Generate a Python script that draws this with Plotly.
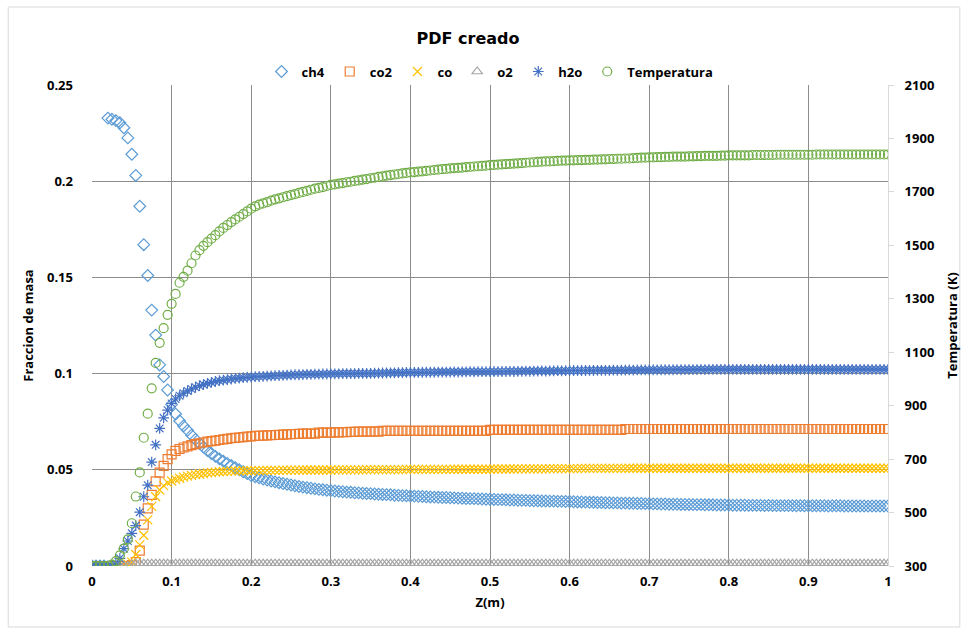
import plotly.graph_objects as go

# ---------------- data ----------------
Z = [0, .005, .01, .015, .02, .025, .03, .035, .04, .045,
     .05, .055, .06, .065, .07, .075, .08, .085, .09, .095,
     .1, .105, .11, .115, .12, .125, .13, .135, .14, .145,
     .15, .155, .16, .165, .17, .175, .18, .185, .19, .195,
     .2, .205, .21, .215, .22, .225, .23, .235, .24, .245,
     .25, .255, .26, .265, .27, .275, .28, .285, .29, .295,
     .3,
     .31, .32, .33, .34, .35, .36, .37, .38, .39, .40,
     .41, .42, .43, .44, .45, .46, .47, .48, .49, .50,
     .51, .52, .53, .54, .55, .56, .57, .58, .59, .60,
     .61, .62, .63, .64, .65, .66, .67, .68, .69, .70,
     .71, .72, .73, .74, .75, .76, .77, .78, .79, .80,
     .81, .82, .83, .84, .85, .86, .87, .88, .89, .90,
     .91, .92, .93, .94, .95, .96, .97, .98, .99, 1.0]

# extra sample positions between 0.3 and 1 (the reference is densely sampled)
Z_mid = [.305, .315, .325, .335, .345, .355, .365, .375, .385, .395,
         .405, .415, .425, .435, .445, .455, .465, .475, .485, .495,
         .505, .515, .525, .535, .545, .555, .565, .575, .585, .595,
         .605, .615, .625, .635, .645, .655, .665, .675, .685, .695,
         .705, .715, .725, .735, .745, .755, .765, .775, .785, .795,
         .805, .815, .825, .835, .845, .855, .865, .875, .885, .895,
         .905, .915, .925, .935, .945, .955, .965, .975, .985, .995]

ch4 = [0, 0, 0, 0, .2328, .2322, .2315, .2304, .2278, .2225,
       .2140, .2030, .1870, .1670, .1510, .1330, .1200, .1045, .0985, .0915,
       .0840, .0790, .0755, .0728, .0705, .0680, .0658, .0637, .0618, .0600,
       .0585, .0570, .0557, .0545, .0533, .0522, .0511, .0500, .0490, .0480,
       .0470, .0464, .0458, .0452, .0447, .0442, .0437, .0433, .0429, .0425,
       .0421, .0417, .0413, .0410, .0407, .0404, .0401, .0398, .0396, .0394,
       .0392,
       .0388, .0384, .0381, .0378, .0376, .0373, .0371, .0368, .0366, .0364,
       .0362, .0360, .0358, .0356, .0355, .0353, .0351, .0350, .0348, .0347,
       .0345, .0344, .0343, .0341, .0340, .0339, .0338, .0337, .0336, .0335,
       .0333, .0332, .0331, .0330, .0329, .0328, .0327, .0326, .0325, .0324,
       .0323, .0322, .0321, .0320, .0320, .0319, .0318, .0318, .0317, .0317,
       .0316, .0316, .0315, .0315, .0315, .0314, .0314, .0314, .0314, .0313,
       .0313, .0313, .0313, .0313, .0312, .0312, .0312, .0312, .0312, .0312]
ch4_mid = [.0390, .0386, .0383, .0380, .0377, .0374, .0372, .0370, .0367, .0365,
           .0363, .0361, .0359, .0357, .0356, .0354, .0352, .0350, .0349, .0347,
           .0346, .0345, .0343, .0342, .0341, .0339, .0338, .0337, .0336, .0335,
           .0334, .0333, .0331, .0330, .0329, .0328, .0327, .0326, .0325, .0324,
           .0323, .0322, .0321, .0321, .0320, .0319, .0319, .0318, .0317, .0317,
           .0316, .0316, .0315, .0315, .0314, .0314, .0314, .0314, .0313, .0313,
           .0313, .0313, .0312, .0313, .0312, .0312, .0312, .0311, .0312, .0312]

co2 = [0, 0, 0, 0, 0, 0, 0, 0, 0, 0,
       .0005, .002, .008, .0215, .030, .037, .044, .0485, .052, .0555,
       .0580, .0598, .0608, .0616, .0622, .0628, .0633, .0638, .0642, .0646,
       .0649, .0652, .0655, .0658, .0661, .0664, .0666, .0668, .0670, .0672,
       .0674, .0676, .0677, .0678, .0679, .0680, .0681, .0682, .0683, .0684,
       .0685, .0686, .0687, .0688, .0688, .0688, .0688, .0693, .0693, .0693,
       .0693,
       .0695, .0696, .0697, .0698, .0698, .0698, .0702, .0702, .0702, .0702,
       .0702, .0702, .0702, .0702, .0702, .0702, .0702, .0702, .0702, .0707,
       .0707, .0707, .0707, .0707, .0707, .0707, .0707, .0707, .0707, .0707,
       .0707, .0707, .0707, .0707, .0707, .0707, .0712, .0712, .0712, .0712,
       .0712, .0712, .0712, .0712, .0712, .0712, .0712, .0712, .0712, .0712,
       .0712, .0712, .0712, .0712, .0712, .0712, .0712, .0712, .0712, .0712,
       .0712, .0712, .0712, .0712, .0712, .0712, .0712, .0712, .0712, .0712]
co2_mid = [.0695, .0696, .0697, .0698, .0698, .0700, .0702, .0702, .0702, .0702,
           .0702, .0702, .0702, .0702, .0702, .0702, .0702, .0702, .0702, .0702,
           .0707, .0707, .0707, .0707, .0707, .0707, .0707, .0707, .0707, .0707,
           .0707, .0707, .0707, .0707, .0707, .0707, .0707, .0712, .0712, .0712,
           .0712, .0712, .0712, .0712, .0712, .0712, .0712, .0712, .0712, .0712,
           .0712, .0712, .0712, .0712, .0712, .0712, .0712, .0712, .0712, .0712,
           .0712, .0712, .0712, .0712, .0712, .0712, .0712, .0712, .0712, .0712]

co = [0, 0, 0, 0, 0, 0, 0, 0, 0, .001,
      .002, .006, .011, .016, .024, .031, .036, .0395, .0418, .0433,
      .0442, .0450, .0456, .0462, .0467, .0471, .0475, .0478, .0481, .0484,
      .0486, .0488, .0490, .0491, .0492, .0493, .0494, .0494, .0495, .0495,
      .0495, .0496, .0496, .0496, .0497, .0497, .0497, .0497, .0498, .0498,
      .0498, .0498, .0498, .0499, .0499, .0499, .0499, .0499, .0499, .0499,
      .0499,
      .0500, .0500, .0500, .0500, .0501, .0501, .0501, .0501, .0501, .0502,
      .0502, .0502, .0502, .0502, .0502, .0503, .0503, .0503, .0503, .0503,
      .0504, .0504, .0504, .0505, .0505, .0505, .0505, .0506, .0506, .0506,
      .0506, .0507, .0507, .0507, .0507, .0507, .0507, .0508, .0508, .0508,
      .0508, .0508, .0508, .0508, .0508, .0508, .0508, .0508, .0508, .0508,
      .0508, .0508, .0508, .0508, .0508, .0508, .0508, .0508, .0508, .0508,
      .0508, .0508, .0508, .0508, .0508, .0508, .0508, .0508, .0508, .0508]
co_mid = [.0500, .0500, .0500, .0500, .0501, .0501, .0501, .0501, .0501, .0502,
          .0502, .0502, .0502, .0502, .0502, .0503, .0503, .0503, .0503, .0503,
          .0504, .0504, .0504, .0505, .0505, .0505, .0505, .0506, .0506, .0506,
          .0506, .0507, .0507, .0507, .0507, .0507, .0507, .0508, .0508, .0508,
          .0508, .0508, .0508, .0508, .0508, .0508, .0508, .0508, .0508, .0508,
          .0508, .0508, .0508, .0508, .0508, .0508, .0508, .0508, .0508, .0508,
          .0508, .0508, .0508, .0508, .0508, .0508, .0508, .0508, .0508, .0508]

o2 = [0, 0, 0, 0, 0, 0, 0, 0, 0, 0,
      .0008, .0012, .0012, .0012, .0012, .0012, .0012, .0012, .0012, .0012,
      .0012, .0012, .0012, .0012, .0012, .0012, .0012, .0012, .0012, .0012,
      .0012, .0012, .0012, .0012, .0012, .0012, .0012, .0012, .0012, .0012,
      .0012, .0012, .0012, .0012, .0012, .0012, .0012, .0012, .0012, .0012,
      .0012, .0012, .0012, .0012, .0012, .0012, .0012, .0012, .0012, .0012,
      .0012,
      .0012, .0012, .0012, .0012, .0012, .0012, .0012, .0012, .0012, .0012,
      .0012, .0012, .0012, .0012, .0012, .0012, .0012, .0012, .0012, .0012,
      .0012, .0012, .0012, .0012, .0012, .0012, .0012, .0012, .0012, .0012,
      .0012, .0012, .0012, .0012, .0012, .0012, .0012, .0012, .0012, .0012,
      .0012, .0012, .0012, .0012, .0012, .0012, .0012, .0012, .0012, .0012,
      .0012, .0012, .0012, .0012, .0012, .0012, .0012, .0012, .0012, .0012,
      .0012, .0012, .0012, .0012, .0012, .0012, .0012, .0012, .0012, .0012]
o2_mid = [.0012, .0012, .0012, .0012, .0012, .0012, .0012, .0012, .0012, .0012,
          .0012, .0012, .0012, .0012, .0012, .0012, .0012, .0012, .0012, .0012,
          .0012, .0012, .0012, .0012, .0012, .0012, .0012, .0012, .0012, .0012,
          .0012, .0012, .0012, .0012, .0012, .0012, .0012, .0012, .0012, .0012,
          .0012, .0012, .0012, .0012, .0012, .0012, .0012, .0012, .0012, .0012,
          .0012, .0012, .0012, .0012, .0012, .0012, .0012, .0012, .0012, .0012,
          .0012, .0012, .0012, .0012, .0012, .0012, .0012, .0012, .0012, .0012]

h2o = [0, 0, 0, 0, 0, 0, .001, .004, .009, .013,
       .017, .021, .028, .036, .042, .054, .063, .0715, .0770, .0810,
       .0845, .0868, .0885, .0898, .0910, .0920, .0929, .0937, .0943, .0949,
       .0954, .0959, .0963, .0966, .0969, .0972, .0975, .0977, .0979, .0981,
       .0982, .0984, .0985, .0986, .0987, .0988, .0989, .0990, .0991, .0992,
       .0993, .0994, .0994, .0995, .0996, .0996, .0997, .0997, .0998, .0998,
       .0999,
       .0999, .1000, .1000, .1001, .1001, .1002, .1003, .1004, .1005, .1006,
       .1006, .1007, .1007, .1008, .1008, .1008, .1009, .1009, .1010, .1010,
       .1010, .1011, .1011, .1012, .1012, .1013, .1013, .1014, .1014, .1015,
       .1015, .1016, .1016, .1017, .1017, .1017, .1018, .1018, .1019, .1019,
       .1019, .1020, .1020, .1020, .1021, .1021, .1021, .1022, .1022, .1022,
       .1022, .1022, .1022, .1022, .1022, .1022, .1022, .1022, .1022, .1022,
       .1022, .1022, .1022, .1022, .1022, .1022, .1022, .1022, .1022, .1022]
h2o_mid = [.0999, .1000, .1000, .1001, .1001, .1002, .1003, .1004, .1005, .1006,
           .1006, .1007, .1007, .1008, .1008, .1009, .1009, .1010, .1010, .1010,
           .1011, .1011, .1012, .1012, .1013, .1013, .1014, .1014, .1015, .1015,
           .1016, .1016, .1017, .1017, .1017, .1018, .1018, .1019, .1019, .1019,
           .1020, .1020, .1020, .1021, .1021, .1021, .1022, .1022, .1022, .1022,
           .1022, .1022, .1022, .1022, .1022, .1022, .1022, .1022, .1022, .1022,
           .1022, .1022, .1022, .1022, .1022, .1022, .1022, .1022, .1022, .1022]

temperatura = [300, 300, 300, 300, 300, 305, 318, 340, 365, 400,
               460, 560, 650, 780, 870, 965, 1060, 1135, 1190, 1240,
               1281, 1318, 1360, 1382, 1405, 1433, 1462, 1482, 1498, 1512,
               1525, 1538, 1552, 1565, 1576, 1587, 1597, 1607, 1617, 1627,
               1637, 1646, 1652, 1657, 1662, 1667, 1672, 1676, 1680, 1684,
               1688, 1692, 1696, 1700, 1704, 1708, 1712, 1715, 1718, 1722,
               1726,
               1731, 1736, 1741, 1746, 1751, 1756, 1761, 1765, 1769, 1773,
               1776, 1779, 1782, 1785, 1788, 1790, 1793, 1795, 1797, 1800,
               1802, 1804, 1806, 1808, 1810, 1812, 1814, 1815, 1817, 1818,
               1819, 1820, 1821, 1822, 1823, 1824, 1825, 1826, 1828, 1829,
               1830, 1831, 1832, 1832, 1833, 1834, 1835, 1835, 1836, 1837,
               1837, 1837, 1838, 1838, 1838, 1839, 1839, 1839, 1839, 1839,
               1840, 1840, 1840, 1840, 1840, 1840, 1840, 1840, 1840, 1840]
temperatura_mid = [1728, 1733, 1738, 1743, 1748, 1753, 1758, 1763, 1767, 1771,
                   1774, 1777, 1780, 1783, 1786, 1789, 1791, 1794, 1796, 1798,
                   1801, 1803, 1805, 1807, 1809, 1811, 1813, 1814, 1816, 1817,
                   1818, 1819, 1820, 1821, 1822, 1823, 1824, 1825, 1827, 1828,
                   1829, 1830, 1831, 1832, 1832, 1833, 1834, 1835, 1835, 1836,
                   1837, 1837, 1837, 1838, 1838, 1838, 1839, 1839, 1839, 1839,
                   1839, 1840, 1840, 1840, 1840, 1840, 1840, 1840, 1840, 1840]

x_ticks = [0, 0.1, 0.2, 0.3, 0.4, 0.5, 0.6, 0.7, 0.8, 0.9, 1]
y_ticks = [0, 0.05, 0.1, 0.15, 0.2, 0.25]
t_ticks = [300, 500, 700, 900, 1100, 1300, 1500, 1700, 1900, 2100]

# ---------------- figure ----------------
FONT = "Open Sans"
series = [
    ("ch4", ch4 + ch4_mid, "diamond-open", "#5B9BD5", "y"),
    ("co2", co2 + co2_mid, "square-open", "#ED7D31", "y"),
    ("co", co + co_mid, "x-thin-open", "#FFC000", "y"),
    ("o2", o2 + o2_mid, "triangle-up-open", "#A5A5A5", "y"),
    ("h2o", h2o + h2o_mid, "asterisk-open", "#4472C4", "y"),
    ("Temperatura", temperatura + temperatura_mid, "circle-open", "#70AD47", "y2"),
]
xs = Z + Z_mid

fig = go.Figure()
for name, vals, sym, col, ax in series:
    fig.add_trace(go.Scatter(
        x=xs, y=vals, name=name, mode="markers", yaxis=ax,
        marker=dict(symbol=sym, size=9, color=col, line=dict(width=1.2, color=col)),
    ))

bold = dict(family=FONT, size=13, color="#000000", weight=700)

fig.update_layout(
    width=969, height=630,
    margin=dict(l=92, r=79, t=85, b=64),
    paper_bgcolor="white", plot_bgcolor="white",
    title=dict(text="PDF creado", x=468 / 969, xref="container", xanchor="center",
               y=1 - 38 / 630, yref="container", yanchor="middle",
               font=dict(family="DejaVu Sans", size=16, color="#000000", weight=700)),
    legend=dict(orientation="h", x=0.5, xanchor="center", y=1.028, yanchor="middle",
                font=bold, itemwidth=30, tracegroupgap=0, bgcolor="rgba(0,0,0,0)"),
    xaxis=dict(range=[0, 1], tickvals=x_ticks, ticktext=[str(v) for v in x_ticks],
               showgrid=True, gridcolor="#8c8c8c", gridwidth=1, zeroline=False,
               showline=False, ticks="", tickfont=bold, ticklabelstandoff=6,
               title=dict(text="Z(m)", font=bold, standoff=8)),
    yaxis=dict(range=[0, 0.25], tickvals=y_ticks, ticktext=[str(v) for v in y_ticks],
               showgrid=True, gridcolor="#8c8c8c", gridwidth=1, zeroline=False,
               showline=False, ticks="", tickfont=bold, ticklabelstandoff=18,
               title=dict(text="Fraccion de masa", font=bold, standoff=10)),
    yaxis2=dict(range=[300, 2100], tickvals=t_ticks, overlaying="y", side="right",
                showgrid=False, zeroline=False, showline=True, linecolor="#d9d9d9",
                ticks="outside", ticklen=5, tickcolor="#d9d9d9", tickfont=bold,
                ticklabelstandoff=8,
                title=dict(text="Temperatura (K)", font=bold, standoff=14)),
    showlegend=True,
)

# light chart-area border
fig.add_shape(type="rect", xref="paper", yref="paper",
              x0=(8 - 92) / 798, x1=(962 - 92) / 798,
              y0=(566 - 627) / 481, y1=(566 - 7) / 481,
              line=dict(color="#d9d9d9", width=1), layer="below")

fig.write_html("out.html")
